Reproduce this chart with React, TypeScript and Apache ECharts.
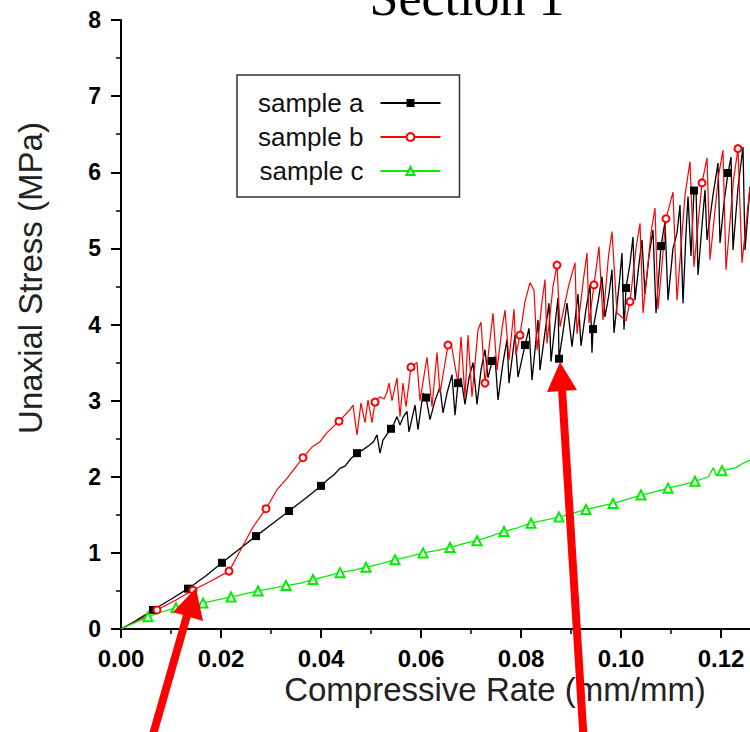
import React, { useEffect, useRef } from 'react';
import * as echarts from 'echarts';

const FONT = '"Liberation Sans", Arial, Helvetica, sans-serif';

const xTicks = [0, 0.02, 0.04, 0.06, 0.08, 0.1, 0.12];
const yTicks = [0, 1, 2, 3, 4, 5, 6, 7, 8];

const seriesNames = ['sample a', 'sample b', 'sample c'];

// sample a (black, squares)
const sampleA: [number, number][] = [
  [0, 0], [0.003, 0.11], [0.0064, 0.25], [0.01, 0.39], [0.0134, 0.53], [0.017, 0.7], [0.0202, 0.87],
  [0.0235, 1.04], [0.027, 1.22], [0.03, 1.37], [0.0336, 1.55], [0.0368, 1.71], [0.04, 1.88], [0.0415, 1.97],
  [0.0425, 2.02], [0.0438, 2.11], [0.0448, 2.14], [0.046, 2.24], [0.0472, 2.31], [0.0485, 2.36], [0.0498, 2.42],
  [0.0505, 2.46], [0.0512, 2.55], [0.0518, 2.31], [0.0524, 2.48], [0.0532, 2.56], [0.054, 2.63], [0.0546, 2.7],
  [0.0552, 2.79], [0.0558, 2.68], [0.0564, 2.78], [0.0572, 2.86], [0.0576, 2.59], [0.0588, 2.94], [0.0594, 2.62],
  [0.0604, 3.1], [0.061, 3.04], [0.0618, 2.75], [0.0628, 3.0], [0.0638, 3.18], [0.0644, 2.84], [0.0652, 3.1],
  [0.0662, 3.34], [0.0668, 2.81], [0.0674, 3.23], [0.068, 3.3], [0.0688, 2.95], [0.0696, 3.3], [0.0704, 3.5],
  [0.0712, 2.95], [0.072, 3.4], [0.0728, 3.67], [0.0734, 3.3], [0.0742, 3.52], [0.0748, 3.58], [0.0754, 3.01],
  [0.0764, 3.5], [0.0772, 3.8], [0.0776, 3.23], [0.0788, 3.86], [0.0794, 3.31], [0.0808, 3.73], [0.0816, 3.95],
  [0.0822, 3.27], [0.083, 3.8], [0.0834, 4.06], [0.0838, 3.4], [0.0848, 3.9], [0.0856, 4.28], [0.086, 3.51],
  [0.0868, 4.0], [0.0874, 4.35], [0.0876, 3.55], [0.0884, 3.9], [0.0892, 4.28], [0.0902, 3.71], [0.0914, 4.4],
  [0.092, 3.72], [0.093, 4.2], [0.0938, 4.52], [0.0942, 3.63], [0.0944, 3.94], [0.0954, 4.3], [0.0962, 4.63],
  [0.0968, 4.1], [0.0976, 4.4], [0.0982, 4.72], [0.0986, 3.89], [0.0996, 4.5], [0.1002, 4.94], [0.1006, 3.93],
  [0.101, 4.48], [0.1018, 4.8], [0.1024, 5.15], [0.1028, 4.32], [0.1036, 4.8], [0.1042, 5.11], [0.1048, 4.4],
  [0.1056, 4.9], [0.1064, 5.24], [0.107, 4.15], [0.108, 5.03], [0.1088, 5.35], [0.1094, 4.32], [0.1104, 5.0],
  [0.1112, 5.2], [0.1118, 5.57], [0.1124, 4.28], [0.113, 5.2], [0.1134, 5.68], [0.114, 4.9], [0.1146, 5.76],
  [0.115, 5.8], [0.1154, 4.65], [0.1162, 5.3], [0.1168, 5.77], [0.1172, 5.11], [0.1184, 5.7], [0.1194, 6.12],
  [0.1198, 5.07], [0.1206, 5.6], [0.1214, 5.99], [0.122, 6.2], [0.1224, 4.98], [0.1234, 5.8], [0.1244, 6.33],
  [0.1248, 4.98], [0.1258, 5.81],
];
const sampleAMarkerX = [0.0064, 0.0134, 0.0202, 0.027, 0.0336, 0.04, 0.0472, 0.054, 0.061, 0.0674, 0.0742,
  0.0808, 0.0876, 0.0944, 0.101, 0.108, 0.1146, 0.1214];

// sample b (red, open circles)
const sampleB: [number, number][] = [
  [0, 0], [0.0036, 0.12], [0.0072, 0.25], [0.011, 0.38], [0.0144, 0.51], [0.018, 0.63], [0.0216, 0.76],
  [0.0232, 0.95], [0.025, 1.17], [0.0264, 1.34], [0.029, 1.58], [0.0312, 1.83], [0.0332, 1.98], [0.0364, 2.25],
  [0.0382, 2.39], [0.0398, 2.46], [0.0412, 2.58], [0.0436, 2.73], [0.0458, 2.88], [0.0464, 2.94], [0.0472, 2.55],
  [0.048, 2.97], [0.0488, 2.71], [0.0494, 3.01], [0.0502, 2.71], [0.0508, 2.98], [0.0518, 3.05], [0.0526, 3.02],
  [0.0532, 3.11], [0.0536, 3.23], [0.0542, 3.0], [0.0552, 3.3], [0.0558, 2.79], [0.0564, 3.23], [0.057, 2.92],
  [0.058, 3.44], [0.0592, 3.5], [0.0598, 3.0], [0.0612, 3.57], [0.0622, 2.92], [0.0632, 3.63], [0.0638, 3.1],
  [0.0654, 3.73], [0.066, 3.76], [0.0674, 3.23], [0.068, 3.84], [0.0688, 3.04], [0.0694, 3.86], [0.0702, 3.05],
  [0.0714, 3.93], [0.072, 4.03], [0.0728, 3.23], [0.0738, 3.8], [0.0744, 4.15], [0.0752, 3.4], [0.0762, 3.95],
  [0.0768, 4.19], [0.0776, 3.53], [0.0786, 4.2], [0.079, 3.6], [0.0798, 3.86], [0.0808, 4.3], [0.0818, 4.55],
  [0.0826, 4.45], [0.0832, 3.67], [0.0842, 4.3], [0.0848, 4.59], [0.0852, 3.75], [0.0864, 4.5], [0.0872, 4.78],
  [0.0878, 3.97], [0.0895, 4.5], [0.0908, 4.81], [0.0912, 3.88], [0.0925, 4.6], [0.0932, 4.94], [0.0936, 4.02],
  [0.0946, 4.52], [0.0956, 5.02], [0.0964, 4.06], [0.0975, 4.9], [0.0982, 5.22], [0.0992, 4.15], [0.101, 4.05],
  [0.1018, 4.3], [0.103, 5.0], [0.1038, 5.33], [0.1044, 4.15], [0.106, 5.2], [0.1068, 5.53], [0.1074, 4.2],
  [0.109, 5.39], [0.1104, 5.74], [0.1112, 4.32], [0.1128, 5.7], [0.1138, 6.14], [0.1146, 4.76], [0.1162, 5.86],
  [0.1172, 6.19], [0.1178, 4.85], [0.1195, 5.95], [0.1204, 6.29], [0.121, 4.72], [0.1225, 5.9], [0.1234, 6.31],
  [0.1242, 4.81], [0.1258, 5.81],
];
const sampleBMarkerX = [0.0072, 0.0144, 0.0216, 0.029, 0.0364, 0.0436, 0.0508, 0.058, 0.0654, 0.0728, 0.0798,
  0.0872, 0.0946, 0.1018, 0.109, 0.1162, 0.1234];

// sample c (green, open triangles)
const sampleC: [number, number][] = [
  [0, 0], [0.0027, 0.08], [0.0054, 0.16], [0.008, 0.22], [0.011, 0.28], [0.0137, 0.31], [0.0164, 0.34],
  [0.019, 0.38], [0.022, 0.42], [0.0247, 0.46], [0.0274, 0.5], [0.03, 0.53], [0.033, 0.57], [0.0357, 0.6],
  [0.0384, 0.65], [0.041, 0.69], [0.0438, 0.74], [0.0464, 0.77], [0.049, 0.81], [0.052, 0.86], [0.0548, 0.91],
  [0.0576, 0.95], [0.0604, 1.0], [0.063, 1.03], [0.0658, 1.07], [0.0685, 1.12], [0.0712, 1.16], [0.074, 1.22],
  [0.0766, 1.28], [0.0793, 1.33], [0.082, 1.39], [0.0848, 1.43], [0.0876, 1.47], [0.0903, 1.52], [0.093, 1.57],
  [0.0957, 1.61], [0.0984, 1.65], [0.101, 1.7], [0.104, 1.76], [0.1067, 1.8], [0.1094, 1.85], [0.112, 1.89],
  [0.1148, 1.94], [0.1175, 2.0], [0.1185, 2.12], [0.119, 2.02], [0.1202, 2.08], [0.123, 2.12], [0.1245, 2.18],
  [0.1258, 2.22],
];
const sampleCMarkerX = [0.0054, 0.011, 0.0164, 0.022, 0.0274, 0.033, 0.0384, 0.0438, 0.049, 0.0548, 0.0604,
  0.0658, 0.0712, 0.0766, 0.082, 0.0876, 0.093, 0.0984, 0.104, 0.1094, 0.1148, 0.1202];

function build(points: [number, number][], markerX: number[]) {
  const set = new Set(markerX);
  return points.map(([x, y]) => (set.has(x) ? [x, y] : { value: [x, y], symbol: 'none' }));
}

// The plot continues past the right edge of the 750px frame (axis runs to 0.14).
const CHART_W = 821;

export default function App() {
  const ref = useRef<HTMLDivElement>(null);
  useEffect(() => {
    const chart = echarts.init(ref.current!, null, { renderer: 'svg' });
    const option: any = {
      animation: false,
      backgroundColor: '#ffffff',
      grid: { left: 121, top: 20, right: 0, bottom: 103, containLabel: false },
      xAxis: {
        type: 'value',
        min: 0,
        max: 0.14,
        interval: 0.02,
        axisLine: { lineStyle: { color: '#000', width: 2 } },
        axisTick: { length: 9, lineStyle: { color: '#000', width: 2 } },
        minorTick: { show: true, splitNumber: 2, length: 5, lineStyle: { color: '#000', width: 1.5 } },
        splitLine: { show: false },
        axisLabel: {
          margin: 17,
          color: '#000',
          fontSize: 24,
          fontWeight: 'bold',
          fontFamily: FONT,
          showMaxLabel: false,
          formatter: (v: number) => {
            const t = xTicks.find((k) => Math.abs(k - v) < 1e-9);
            return t === undefined ? '' : t.toFixed(2);
          },
        },
      },
      yAxis: {
        type: 'value',
        min: 0,
        max: 8,
        interval: 1,
        axisLine: { show: true, lineStyle: { color: '#000', width: 2 } },
        axisTick: { show: true, length: 10, lineStyle: { color: '#000', width: 2 } },
        minorTick: { show: true, splitNumber: 2, length: 5, lineStyle: { color: '#000', width: 1.5 } },
        splitLine: { show: false },
        axisLabel: {
          margin: 20,
          color: '#000',
          fontSize: 23,
          fontWeight: 'bold',
          fontFamily: FONT,
          formatter: (v: number) => {
            const t = yTicks.find((k) => Math.abs(k - v) < 1e-9);
            return t === undefined ? '' : String(t);
          },
        },
      },
      legend: {
        orient: 'vertical',
        left: 237,
        top: 75,
        align: 'right',
        itemWidth: 60,
        itemHeight: 10,
        itemGap: 8,
        padding: [15, 18, 13, 21],
        borderColor: '#333',
        borderWidth: 1.5,
        backgroundColor: '#fff',
        selectedMode: false,
        textStyle: { fontSize: 26, lineHeight: 26, fontFamily: FONT, color: '#111', padding: [0, 12, 0, 0] },
        data: seriesNames,
      },
      series: [
        {
          name: seriesNames[0],
          type: 'line',
          data: build(sampleA, sampleAMarkerX),
          symbol: 'rect',
          symbolSize: 8,
          showSymbol: true,
          color: '#000000',
          lineStyle: { color: '#000000', width: 1.3 },
          itemStyle: { color: '#000000' },
          emphasis: { disabled: true },
        },
        {
          name: seriesNames[1],
          type: 'line',
          data: build(sampleB, sampleBMarkerX),
          symbol: 'emptyCircle',
          symbolSize: 7,
          showSymbol: true,
          color: '#ff0000',
          lineStyle: { color: '#ff0000', width: 1.2 },
          itemStyle: { color: '#ff0000', borderWidth: 1.2 },
          emphasis: { disabled: true },
        },
        {
          name: seriesNames[2],
          type: 'line',
          data: build(sampleC, sampleCMarkerX),
          symbol: 'emptyTriangle',
          symbolSize: 9,
          showSymbol: true,
          color: '#00ee00',
          lineStyle: { color: '#00ee00', width: 1.3 },
          itemStyle: { color: '#00ee00', borderWidth: 1.3 },
          emphasis: { disabled: true },
        },
      ],
      graphic: [
        {
          type: 'text',
          x: 467,
          y: -3,
          style: {
            text: 'Section 1',
            fontSize: 52,
            fontFamily: '"Liberation Serif", "Times New Roman", serif',
            fill: '#000',
            align: 'center',
            verticalAlign: 'middle',
          },
        },
        {
          type: 'text',
          x: 30,
          y: 278,
          rotation: Math.PI / 2,
          style: {
            text: 'Unaxial Stress (MPa)',
            fontSize: 33,
            fontFamily: FONT,
            fill: '#222',
            align: 'center',
            verticalAlign: 'middle',
          },
        },
        {
          type: 'text',
          x: 495,
          y: 689,
          style: {
            text: 'Compressive Rate (mm/mm)',
            fontSize: 33,
            fontFamily: FONT,
            fill: '#222',
            align: 'center',
            verticalAlign: 'middle',
          },
        },
        {
          type: 'line',
          z: 100,
          shape: { x1: 150, y1: 745, x2: 188, y2: 612 },
          style: { stroke: '#ff0000', lineWidth: 8 },
        },
        {
          type: 'polygon',
          z: 100,
          shape: { points: [[196, 588], [173, 612], [203, 621]] },
          style: { fill: '#ff0000' },
        },
        {
          type: 'line',
          z: 100,
          shape: { x1: 584, y1: 745, x2: 562, y2: 389 },
          style: { stroke: '#ff0000', lineWidth: 8 },
        },
        {
          type: 'polygon',
          z: 100,
          shape: { points: [[560, 362], [547, 392], [577, 390]] },
          style: { fill: '#ff0000' },
        },
      ],
    };
    chart.setOption(option);
    return () => chart.dispose();
  }, []);
  return (
    <div
      style={{
        position: 'absolute',
        left: 0,
        top: 0,
        width: 750,
        height: 732,
        overflow: 'hidden',
        background: '#fff',
      }}
    >
      <div ref={ref} style={{ width: CHART_W, height: 732 }} />
    </div>
  );
}
